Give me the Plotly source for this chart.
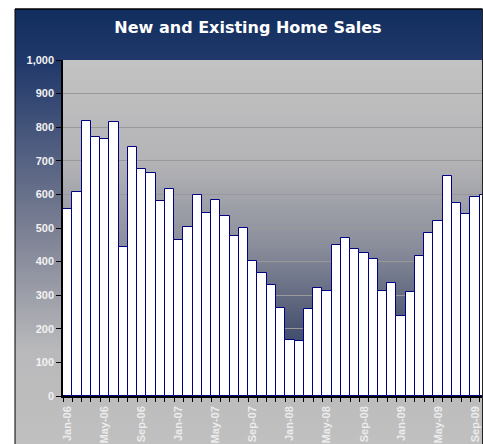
import base64
import plotly.graph_objects as go

# ---- data ----
months = ["Jan-06", "Feb-06", "Mar-06", "Apr-06", "May-06", "Jun-06", "Jul-06", "Aug-06",
          "Sep-06", "Oct-06", "Nov-06", "Dec-06",
          "Jan-07", "Feb-07", "Mar-07", "Apr-07", "May-07", "Jun-07", "Jul-07", "Aug-07",
          "Sep-07", "Oct-07", "Nov-07", "Dec-07",
          "Jan-08", "Feb-08", "Mar-08", "Apr-08", "May-08", "Jun-08", "Jul-08", "Aug-08",
          "Sep-08", "Oct-08", "Nov-08", "Dec-08",
          "Jan-09", "Feb-09", "Mar-09", "Apr-09", "May-09", "Jun-09", "Jul-09", "Aug-09",
          "Sep-09", "Oct-09"]
sales = [557, 608, 818, 770, 766, 815, 442, 740, 675, 664, 580, 617,
         465, 502, 597, 546, 582, 535, 477, 499, 403, 365, 331, 263,
         168, 165, 258, 320, 314, 448, 471, 439, 426, 408, 314, 337,
         238, 311, 418, 485, 521, 655, 574, 541, 592, 597]
tick_labels = ["Jan-06", "May-06", "Sep-06", "Jan-07", "May-07", "Sep-07",
               "Jan-08", "May-08", "Sep-08", "Jan-09", "May-09", "Sep-09"]
y_ticks = [0, 100, 200, 300, 400, 500, 600, 700, 800, 900, 1000]

# ---- geometry ----
W, H = 483, 444
L, R, T, B = 63, 1, 60, 48
PW, PH = W - L - R, H - T - B


def px(x):
    return (x - L) / PW


def py(y):
    return (H - B - y) / PH


def grad_uri(stops):
    st = "".join(f"<stop offset='{o}' stop-color='{c}'/>" for o, c in stops)
    svg = ("<svg xmlns='http://www.w3.org/2000/svg' width='100' height='100' "
           "preserveAspectRatio='none'><defs><linearGradient id='g' x1='0' y1='0' x2='0' y2='1'>"
           + st + "</linearGradient></defs><rect width='100' height='100' fill='url(#g)'/></svg>")
    return "data:image/svg+xml;base64," + base64.b64encode(svg.encode()).decode()


frame_grad = grad_uri([(0, "#112e5e"), (0.12, "#20386a"), (0.5, "#7a7f93"),
                       (0.78, "#b9b9bb"), (1, "#c0c0c0")])
plot_grad = grad_uri([(0, "#c3c3c3"), (0.3, "#b4b4b7"), (0.55, "#8b8e9b"),
                      (0.8, "#4a5471"), (1, "#1f3360")])

x_idx = list(range(len(months)))
tick_pos = [months.index(m) for m in tick_labels]

fig = go.Figure(go.Bar(
    x=x_idx, y=sales, width=1.0,
    marker=dict(color="white", line=dict(color="#000080", width=1)),
    hovertext=months,
))

fig.update_layout(
    width=W, height=H,
    margin=dict(l=L, r=R, t=T, b=B, autoexpand=False),
    paper_bgcolor="white",
    plot_bgcolor="rgba(0,0,0,0)",
    bargap=0,
    showlegend=False,
    title=dict(text="New and Existing Home Sales", x=248 / W, xref="container",
               xanchor="center", y=1 - 27 / H, yref="container", yanchor="middle",
               font=dict(family="DejaVu Sans, Verdana", size=16, color="white", weight="bold")),
    images=[
        dict(source=frame_grad, xref="paper", yref="paper", x=px(15), y=py(9),
             sizex=(482 - 15) / PW, sizey=(447 - 9) / PH, xanchor="left", yanchor="top",
             sizing="stretch", layer="below"),
        dict(source=plot_grad, xref="paper", yref="paper", x=0, y=1, sizex=1, sizey=1,
             xanchor="left", yanchor="top", sizing="stretch", layer="below"),
    ],
    shapes=[
        dict(type="line", xref="paper", yref="paper", x0=px(15), x1=px(15), y0=py(447), y1=py(9),
             line=dict(color="black", width=1)),
        dict(type="line", xref="paper", yref="paper", x0=px(15), x1=px(482.5), y0=py(9), y1=py(9),
             line=dict(color="black", width=1.5)),
        dict(type="line", xref="paper", yref="paper", x0=px(482.5), x1=px(482.5), y0=py(447), y1=py(9),
             line=dict(color="#222", width=1)),
    ],
)

fig.update_xaxes(
    automargin=False,
    range=[-0.5, -0.5 + PW / 9.26],
    tickvals=tick_pos, ticktext=tick_labels, tickangle=-90,
    ticks="", showgrid=False, zeroline=False,
    showline=True, linecolor="black", linewidth=1.5,
    minor=dict(ticks="outside", tick0=0.5, dtick=1, ticklen=4, tickcolor="black", tickwidth=1,
               showgrid=False),
    tickfont=dict(family="Liberation Sans, Arial", size=11, color="#ececec", weight="bold"),
    ticklabelstandoff=4,
)
fig.update_yaxes(
    automargin=False,
    range=[0, 1000], tickvals=y_ticks, tickformat=",",
    ticks="outside", ticklen=5, tickcolor="black", tickwidth=1,
    showline=True, linecolor="black", linewidth=1.5,
    showgrid=True, gridcolor="#999999", gridwidth=1, zeroline=False,
    tickfont=dict(family="Liberation Sans, Arial", size=11, color="#f2f2f2", weight="bold"),
)

fig.write_html(
    "out.html",
    config={"displayModeBar": False},
    post_script="document.body.style.margin='0';document.body.style.overflow='hidden';",
)
